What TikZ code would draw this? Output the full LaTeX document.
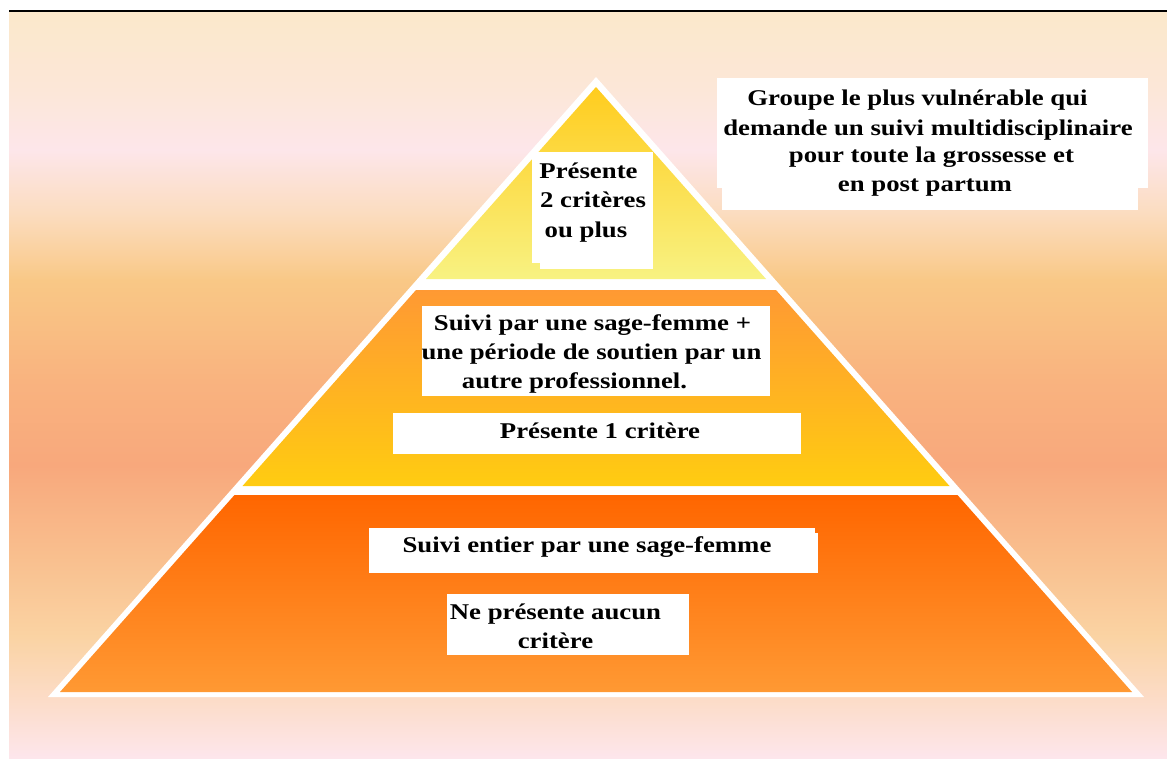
\documentclass[tikz,border=0pt]{standalone}
\usepackage{fontspec}
\newfontfamily\tnr{Liberation Serif}[FakeStretch=1.19]
\begin{document}
\begin{tikzpicture}[x=1pt,y=-1pt,
  lbl/.style={inner sep=0pt,anchor=base,font=\tnr\bfseries\fontsize{22.5}{29}\selectfont,text=black},
  wbox/.style={fill=white,draw=none},
  bgseg/.style={draw=none}]
\definecolor{c0}{HTML}{FBE8CB}
\definecolor{c1}{HTML}{FCE7D8}
\definecolor{c2}{HTML}{FDE6EA}
\definecolor{c3}{HTML}{FBDCBE}
\definecolor{c4}{HTML}{F9C886}
\definecolor{c5}{HTML}{F9B37F}
\definecolor{c6}{HTML}{F8A87C}
\definecolor{c7}{HTML}{F9C08F}
\definecolor{c8}{HTML}{FAD3A3}
\definecolor{c9}{HTML}{FCDCC8}
\definecolor{c10}{HTML}{FDE6EC}
\definecolor{tA}{HTML}{FFCC1E}
\definecolor{tB}{HTML}{F8F282}
\definecolor{mA}{HTML}{FF9933}
\definecolor{mB}{HTML}{FFCC11}
\definecolor{bA}{HTML}{FF6600}
\definecolor{bB}{HTML}{FF9933}
\useasboundingbox (0,0) rectangle (1167,758);
\fill[white] (0,0) rectangle (1167,758);
% background gradient
\shade[bgseg,top color=c0,bottom color=c1] (9,12) rectangle (1167,90.5);
\shade[bgseg,top color=c1,bottom color=c2] (9,90) rectangle (1167,150.5);
\shade[bgseg,top color=c2,bottom color=c3] (9,150) rectangle (1167,215.5);
\shade[bgseg,top color=c3,bottom color=c4] (9,215) rectangle (1167,280.5);
\shade[bgseg,top color=c4,bottom color=c5] (9,280) rectangle (1167,380.5);
\shade[bgseg,top color=c5,bottom color=c6] (9,380) rectangle (1167,465.5);
\shade[bgseg,top color=c6,bottom color=c7] (9,465) rectangle (1167,560.5);
\shade[bgseg,top color=c7,bottom color=c8] (9,560) rectangle (1167,636.5);
\shade[bgseg,top color=c8,bottom color=c9] (9,636) rectangle (1167,700.5);
\shade[bgseg,top color=c9,bottom color=c10] (9,700) rectangle (1167,758);
\draw[line width=2pt,black] (9,11) -- (1167,11);
% pyramid
\fill[white] (596,77) -- (1144,697) -- (48,697) -- cycle;
\shade[top color=tA,bottom color=tB] (596,87) -- (766,279) -- (426,279) -- cycle;
\shade[top color=mA,bottom color=mB] (416,290) -- (776,290) -- (949.5,486) -- (242.5,486) -- cycle;
\shade[top color=bA,bottom color=bB] (234.5,495) -- (957.5,495) -- (1132,692) -- (60,692) -- cycle;
% white boxes
\fill[wbox] (532,152) rectangle (653,263);
\fill[wbox] (540,160) rectangle (653,269);
\fill[wbox] (717,78) rectangle (1148,188);
\fill[wbox] (722,100) rectangle (1138,210);
\fill[wbox] (422,306) rectangle (770,396);
\fill[wbox] (393,413) rectangle (801,454);
\fill[wbox] (369,528) rectangle (815,573);
\fill[wbox] (369,533) rectangle (818,573);
\fill[wbox] (447,594) rectangle (689,655);
% texts
\node[lbl] (p1) at (588.5,178) {Présente};
\node[lbl] (p2) at (593,207) {2 critères};
\node[lbl] (p3) at (586,237) {ou plus};
\node[lbl] (g1) at (917.5,105) {Groupe le plus vulnérable qui};
\node[lbl] (g2) at (928,135) {demande un suivi multidisciplinaire};
\node[lbl] (g3) at (931.5,162) {pour toute la grossesse et};
\node[lbl] (g4) at (925,191) {en post partum};
\node[lbl] (s1) at (592.5,330) {Suivi par une sage-femme +};
\node[lbl] (s2) at (591.5,359) {une période de soutien par un};
\node[lbl] (s3) at (574.5,388) {autre professionnel.};
\node[lbl] (c1n) at (600,438) {Présente 1 critère};
\node[lbl] (e1) at (587,552) {Suivi entier par une sage-femme};
\node[lbl] (n1) at (555.5,619) {Ne présente aucun};
\node[lbl] (n2) at (555.5,648) {critère};
\end{tikzpicture}
\end{document}
